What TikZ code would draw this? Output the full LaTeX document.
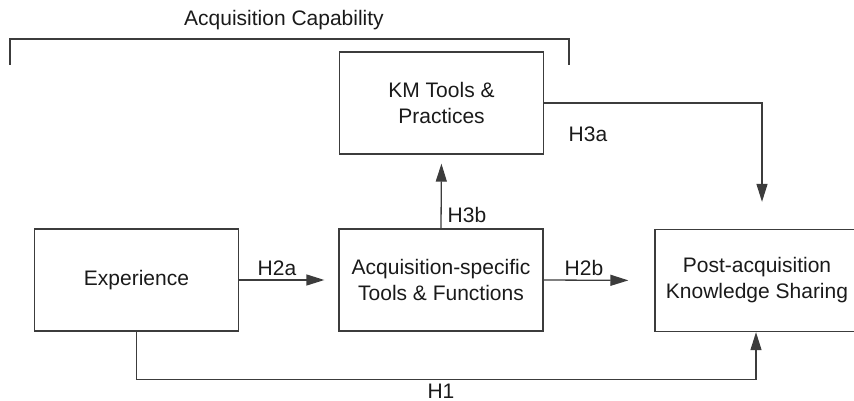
\documentclass[tikz,border=0pt]{standalone}
\usepackage{fontspec}
\setmainfont{Liberation Sans}
\usetikzlibrary{arrows.meta}
\definecolor{linec}{HTML}{3C3C3C}
\definecolor{textc}{HTML}{1A1A1A}
\begin{document}
\begin{tikzpicture}[x=1pt,y=-1pt,
  every node/.style={font=\fontsize{21}{26}\selectfont, text=textc},
  box/.style={draw=linec, line width=1.3pt, minimum width=204pt, minimum height=102pt, align=center, inner sep=0pt},
  conn/.style={draw=linec, line width=1.3pt},
  arr/.style={conn, -{Triangle[length=18pt,width=11pt]}},
  lbl/.style={inner sep=0pt}
]
\useasboundingbox (0,0) rectangle (854,401);
% boxes
\node[box] (exp)  at (136.5,280) {Experience};
\node[box] (acq)  at (441,280)   {Acquisition-specific\\Tools \& Functions};
\node[box] (km)   at (441.5,103) {KM Tools \&\\Practices};
\node[box] (post) at (757,280.5) {Post-acquisition\\Knowledge Sharing};
% bracket
\coordinate (bl) at (10,65);
\coordinate (br) at (569,65);
\draw[conn] (bl) |- (289.5,39) -| (br);
\node[lbl] (cap) at (284,20) {Acquisition Capability};
% connectors
\draw[arr, shorten >=14pt] (exp.east) -- (acq.west);
\draw[arr, shorten >=26pt] (acq.east) -- (post.west);
\draw[arr, shorten >=9pt] (acq.north) -- (km.south);
\coordinate (h3t) at ([xshift=5pt]post.north);
\draw[arr, shorten >=27pt] (km.east) -| (h3t);
\coordinate (h1c) at ([yshift=-48pt]exp.south);
\draw[arr] (exp.south) -- (h1c) -| ([xshift=-1pt]post.south);
% labels
\node[lbl] (l2a) at (277,268) {H2a};
\node[lbl] (l2b) at (584,268) {H2b};
\node[lbl] (l3b) at (467,215) {H3b};
\node[lbl] (l3a) at (588,134) {H3a};
\node[lbl] (l1)  at (441,391) {H1};
\end{tikzpicture}
\end{document}
